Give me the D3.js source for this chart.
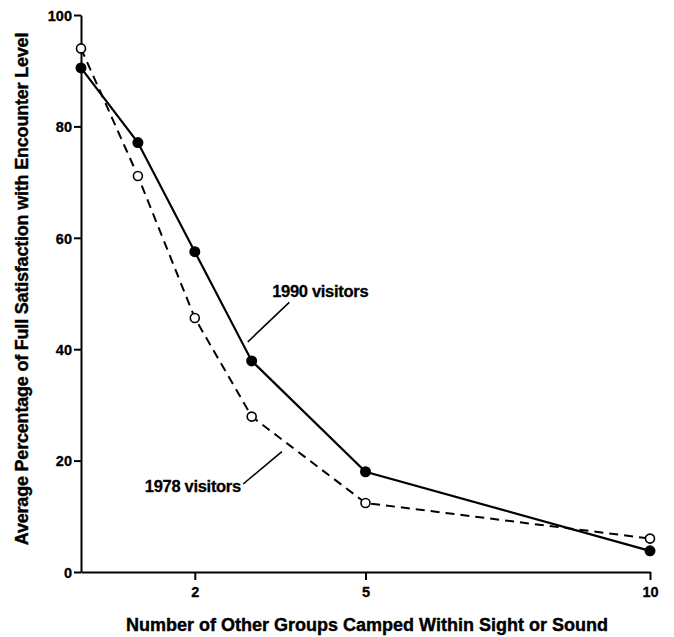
<!DOCTYPE html>
<html>
<head>
<meta charset="utf-8">
<script src="https://cdn.jsdelivr.net/npm/d3@7"></script>
<style>
  body { margin: 0; background: #fff; }
  svg { display: block; font-family: "Liberation Sans", Arial, sans-serif; font-weight: bold; }
  .axis path, .axis line { stroke: #000; stroke-width: 2px; }
</style>
</head>
<body>
<svg id="chart" width="674" height="637"></svg>
<script>
// number of other groups camped within sight or sound
let groups = [0, 1, 2, 3, 5, 10]
// average % of full satisfaction
let visitors1990 = [90.5, 77.1, 57.5, 37.9, 18.0, 3.8]
let visitors1978 = [94.0, 71.1, 45.6, 27.9, 12.4, 6.0]

let xTicks = [2, 5, 10]
let yTicks = [0, 20, 40, 60, 80, 100]

let width = 674, height = 637
let svg = d3.select("#chart")

let x = d3.scaleLinear()
    .domain([0, 10])
    .range([81, 650])

let y = d3.scaleLinear()
    .domain([0, 100])
    .range([572, 15])

let xAxisSettings = d3.axisBottom(x)
    .tickValues(xTicks)
    .tickSize(8)
    .tickPadding(7)
    .tickSizeOuter(0)
    .tickFormat(d3.format("d"))

let yAxisSettings = d3.axisLeft(y)
    .tickValues(yTicks)
    .tickSize(7)
    .tickPadding(2)
    .tickSizeOuter(0)

let xAxisTicks = svg.append("g")
    .attr("class", "x axis")
    .attr("transform", `translate(0,${y(0)})`)
    .call(xAxisSettings)

let yAxisTicks = svg.append("g")
    .attr("class", "y axis")
    .attr("transform", `translate(${x(0)},0)`)
    .call(yAxisSettings)

yAxisTicks.selectAll(".tick text").attr("dy", "0.36em")

svg.selectAll(".axis .tick text")
    .style("font-family", "'Liberation Sans', Arial, sans-serif")
    .style("font-size", "14.5px")
    .style("font-weight", "bold")
    .style("fill", "#000")
    .style("stroke", "#000")
    .style("stroke-width", "0.3px")

let line = d3.line()
    .x(function (d) { return x(d[0]) })
    .y(function (d) { return y(d[1]) })

let data1978 = groups.map((g, i) => [g, visitors1978[i]])
let data1990 = groups.map((g, i) => [g, visitors1990[i]])

svg.append("path")
    .datum(data1978)
    .attr("d", line)
    .style("fill", "none")
    .style("stroke", "#000")
    .style("stroke-width", "2px")
    .style("stroke-dasharray", "9,6")

svg.append("path")
    .datum(data1990)
    .attr("d", line)
    .style("fill", "none")
    .style("stroke", "#000")
    .style("stroke-width", "2.2px")

svg.append("g")
    .selectAll("circle")
    .data(data1990)
    .enter()
    .append("circle")
      .attr("cx", function (d) { return x(d[0]) })
      .attr("cy", function (d) { return y(d[1]) })
      .attr("r", 5.5)
      .style("fill", "#000")

svg.append("g")
    .selectAll("circle")
    .data(data1978)
    .enter()
    .append("circle")
      .attr("cx", function (d) { return x(d[0]) })
      .attr("cy", function (d) { return y(d[1]) })
      .attr("r", 4.5)
      .style("fill", "#fff")
      .style("stroke", "#000")
      .style("stroke-width", "1.6px")

// series labels with leader lines (positions in data units)
const labels = [
  { text: "1990 visitors", anchor: "start", at: [3.36, 49.4], from: [3.66, 48.4], to: [2.93, 41.3] },
  { text: "1978 visitors", anchor: "end", at: [2.81, 14.4], from: [2.85, 15.8], to: [3.53, 21.6] }
]

labels.forEach(function (l) {
  svg.append("line")
    .attr("x1", x(l.from[0]))
    .attr("y1", y(l.from[1]))
    .attr("x2", x(l.to[0]))
    .attr("y2", y(l.to[1]))
    .style("stroke", "#000")
    .style("stroke-width", "1.6px")

  svg.append("text")
    .attr("x", x(l.at[0]))
    .attr("y", y(l.at[1]))
    .attr("text-anchor", l.anchor)
    .style("font-size", "16.5px")
    .style("letter-spacing", "-0.3px")
    .style("stroke", "#000")
    .style("stroke-width", "0.3px")
    .text(l.text)
})

// axis titles
svg.append("text")
  .attr("text-anchor", "middle")
  .attr("x", 367)
  .attr("y", 631)
  .style("font-size", "18px")
  .style("stroke", "#000")
  .style("stroke-width", "0.4px")
  .text("Number of Other Groups Camped Within Sight or Sound")

svg.append("text")
  .attr("text-anchor", "middle")
  .attr("transform", "translate(28,289) rotate(-90)")
  .style("font-size", "18px")
  .style("letter-spacing", "-0.2px")
  .style("stroke", "#000")
  .style("stroke-width", "0.4px")
  .text("Average Percentage of Full Satisfaction with Encounter Level")
</script>
</body>
</html>
